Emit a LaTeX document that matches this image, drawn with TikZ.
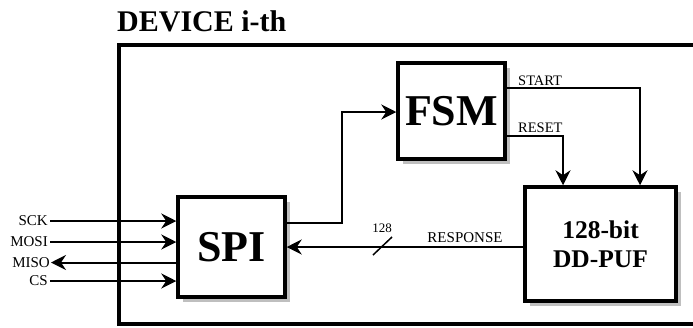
\documentclass[tikz,border=0pt]{standalone}
\usepackage{fontspec}
\setmainfont{Liberation Serif}
\usetikzlibrary{arrows.meta,calc,shadows}
\tikzset{
  blk/.style={draw, line width=3.5pt, fill=white, inner sep=0pt, font=\bfseries,
    drop shadow={shadow xshift=5pt, shadow yshift=-5pt, fill=black!25, opacity=1}},
  bigtxt/.style={font=\bfseries\fontsize{44}{46}\selectfont},
  pufftxt/.style={font=\bfseries\fontsize{25.5}{29}\selectfont, align=center},
  lbl/.style={font=\fontsize{15}{16}\selectfont, inner sep=2pt},
  arr/.style={-{Stealth[length=15pt,width=15pt,inset=5pt]}, line width=2pt},
  thinarr/.style={arr, line width=1.7pt},
}
\begin{document}
\begin{tikzpicture}[x=1pt,y=-1pt]
\useasboundingbox (0,0) rectangle (693,327);
\clip (0,0) rectangle (693,327);
% outer device box
\node[draw, fill=white, line width=3.8pt, anchor=north west, minimum width=610pt, minimum height=279pt, inner sep=0pt,
  drop shadow={shadow xshift=2pt, shadow yshift=-2.5pt, fill=black!25, opacity=1}] (dev) at (117,43) {};
\node[anchor=base west, inner sep=0pt, font=\bfseries\fontsize{30}{31}\selectfont] (title) at (117,31) {DEVICE i-th};
% blocks
\node[blk, bigtxt, minimum width=107pt, minimum height=100pt] (spi) at (231.5,247) {SPI};
\node[blk, bigtxt, minimum width=107pt, minimum height=96pt] (fsm) at (451.5,111) {FSM};
\node[blk, pufftxt, minimum width=151pt, minimum height=114pt] (puf) at (600.5,244) {128-bit\\DD-PUF};
% SPI inputs/outputs
\coordinate (sck) at (50,221);
\coordinate (mosi) at (50,242);
\coordinate (miso) at (51,262.5);
\coordinate (cs) at (50,281);
\node[lbl, anchor=east] (sckl) at (sck) {SCK};
\node[lbl, anchor=east] (mosil) at (mosi) {MOSI};
\node[lbl, anchor=east, inner sep=1pt] (misol) at (miso) {MISO};
\node[lbl, anchor=east] (csl) at (cs) {CS};
\draw[arr] (sck) -- (sck -| spi.west);
\draw[arr] (mosi) -- (mosi -| spi.west);
\draw[arr] (miso -| spi.west) -- (miso);
\draw[arr] (cs) -- (cs -| spi.west);
% SPI -> FSM
\coordinate (s1) at ($(spi.east)+(0,-24)$);
\coordinate (f1) at ($(fsm.west)+(0,1)$);
\draw[thinarr] (s1) -- (342,223) |- (f1);
% FSM -> PUF
\coordinate (st) at ($(fsm.east)+(0,-23)$);
\coordinate (rs) at ($(fsm.east)+(0,25)$);
\draw[thinarr] (st) -| (puf.north -| 640,0);
\draw[thinarr] (rs) -| (puf.north -| 563,0);
\node[lbl, anchor=base west, inner sep=0pt, font=\fontsize{14.5}{15}\selectfont] (startl) at (518,85) {START};
\node[lbl, anchor=base west, inner sep=0pt, font=\fontsize{14.5}{15}\selectfont] (resetl) at (518,132.5) {RESET};
% PUF -> SPI response
\draw[thinarr] (spi.east -| puf.west) -- (spi.east);
\coordinate (bus) at (382.5,246.5);
\draw[line width=1.5pt] ($(bus)+(-9.5,8.5)$) -- ($(bus)+(9.5,-9.5)$);
\node[anchor=base, inner sep=0pt, font=\fontsize{13}{14}\selectfont] (busw) at (382,232) {128};
\node[anchor=base, inner sep=0pt, font=\fontsize{15}{16}\selectfont] (resp) at (465,242) {RESPONSE};
\end{tikzpicture}
\end{document}
